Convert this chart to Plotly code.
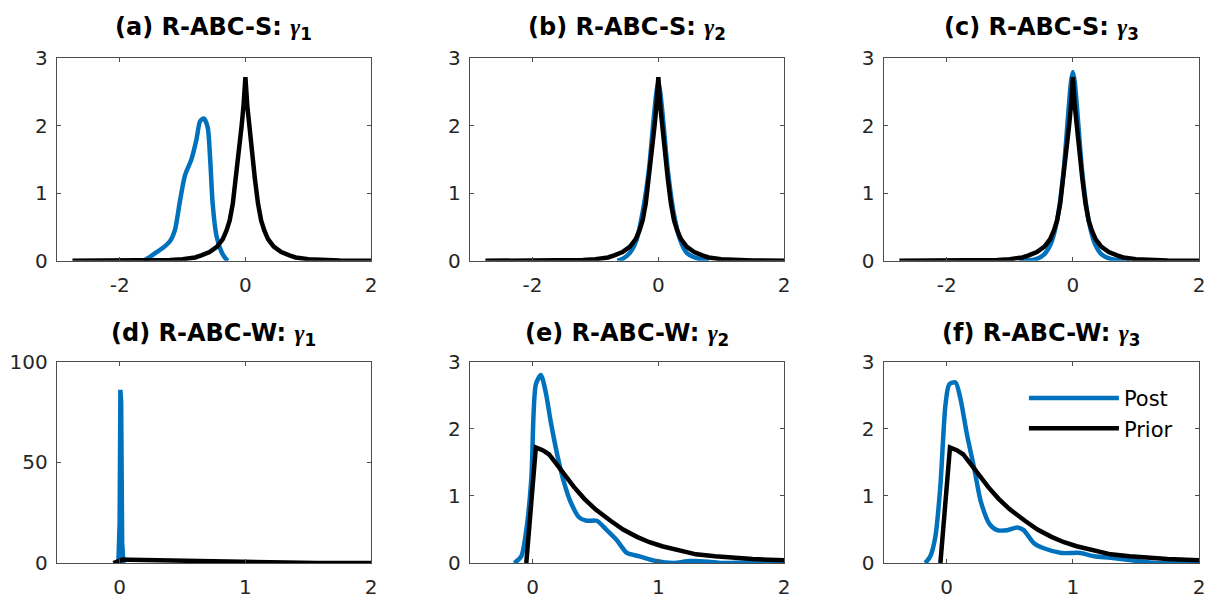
import plotly.graph_objects as go

# ---------------- data ----------------
# Prior, top row (symmetric, same for a, b, c)
prior_s_x = [-2.75, -2.0, -1.5, -1.2, -1.0, -0.8, -0.7, -0.57, -0.45, -0.36, -0.3, -0.25, -0.2, -0.15,
             -0.1, -0.06, -0.03, 0.0, 0.03, 0.06, 0.1, 0.15, 0.2, 0.25, 0.3, 0.36, 0.45, 0.57, 0.7,
             0.8, 1.0, 1.2, 1.5, 2.0]
prior_s_y = [0.0, 0.001, 0.005, 0.012, 0.025, 0.05, 0.08, 0.13, 0.21, 0.32, 0.45, 0.6, 0.85, 1.22,
             1.68, 2.0, 2.3, 2.72, 2.3, 2.0, 1.68, 1.22, 0.85, 0.6, 0.45, 0.32, 0.21, 0.13, 0.08,
             0.05, 0.025, 0.012, 0.005, 0.001]

# Posterior (a) R-ABC-S gamma_1
post_a_x = [-1.62, -1.5, -1.41, -1.3, -1.2, -1.12, -1.04, -0.96, -0.86, -0.78, -0.72, -0.66, -0.6,
            -0.56, -0.52, -0.46, -0.38, -0.32, -0.28]
post_a_y = [0.0, 0.07, 0.13, 0.2, 0.29, 0.46, 0.89, 1.27, 1.5, 1.79, 2.07, 2.11, 1.98,
            1.5, 0.84, 0.37, 0.13, 0.04, 0.0]

# Posterior (b) R-ABC-S gamma_2
post_b_x = [-0.65, -0.55, -0.45, -0.35, -0.25, -0.15, -0.08, -0.03, 0.0, 0.03, 0.08, 0.15, 0.25,
            0.35, 0.45, 0.55, 0.65, 0.8]
post_b_y = [0.0, 0.04, 0.12, 0.3, 0.72, 1.35, 2.05, 2.5, 2.64, 2.5, 2.05, 1.35, 0.68,
            0.3, 0.12, 0.06, 0.03, 0.0]

# Posterior (c) R-ABC-S gamma_3
post_c_x = [-0.85, -0.6, -0.45, -0.35, -0.25, -0.15, -0.08, -0.03, 0.0, 0.03, 0.08, 0.15, 0.25,
            0.35, 0.45, 0.6, 0.9]
post_c_y = [0.0, 0.02, 0.1, 0.25, 0.6, 1.3, 2.1, 2.65, 2.8, 2.65, 2.1, 1.3, 0.6,
            0.25, 0.1, 0.03, 0.0]

# Prior, bottom row (same for d, e, f)
prior_w_x = [-0.05, 0.026, 0.08, 0.13, 0.2, 0.25, 0.33, 0.41, 0.5, 0.62, 0.72, 0.83, 0.93, 1.03,
             1.15, 1.3, 1.45, 1.57, 1.75, 2.0]
prior_w_y = [0.0, 1.72, 1.68, 1.62, 1.45, 1.32, 1.13, 0.96, 0.8, 0.63, 0.5, 0.39, 0.31, 0.25,
             0.19, 0.13, 0.1, 0.08, 0.06, 0.04]

# Posterior (d) R-ABC-W gamma_1
post_d_x = [-0.01, 0.0, 0.006, 0.012, 0.02, 0.03]
post_d_y = [0.0, 20.0, 86.0, 80.0, 10.0, 0.0]

# Posterior (e) R-ABC-W gamma_2
post_e_x = [-0.145, -0.09, -0.05, -0.01, 0.026, 0.066, 0.105, 0.145, 0.2, 0.25, 0.3, 0.37, 0.43,
            0.51, 0.59, 0.67, 0.75, 0.85, 0.98, 1.12, 1.25, 1.4, 1.5, 1.7, 2.0]
post_e_y = [0.0, 0.1, 0.49, 1.25, 2.66, 2.8, 2.54, 2.1, 1.58, 1.2, 0.92, 0.68, 0.63,
            0.63, 0.49, 0.34, 0.15, 0.1, 0.03, 0.0, 0.03, 0.02, 0.0, 0.01, 0.0]

# Posterior (f) R-ABC-W gamma_3
post_f_x = [-0.17, -0.13, -0.09, -0.05, -0.01, 0.02, 0.07, 0.11, 0.16, 0.22, 0.27, 0.34, 0.4,
            0.48, 0.56, 0.61, 0.69, 0.77, 0.91, 1.06, 1.17, 1.3, 1.51, 1.65, 2.0]
post_f_y = [0.0, 0.1, 0.39, 1.15, 2.35, 2.66, 2.69, 2.44, 1.92, 1.39, 0.92, 0.58, 0.49,
            0.49, 0.53, 0.49, 0.3, 0.22, 0.15, 0.15, 0.1, 0.08, 0.03, 0.0, 0.0]

titles = ["(a) R-ABC-S: ", "(b) R-ABC-S: ", "(c) R-ABC-S: ",
          "(d) R-ABC-W: ", "(e) R-ABC-W: ", "(f) R-ABC-W: "]
subs = ["1", "2", "3", "1", "2", "3"]

x_ticks_top = [-2, 0, 2]
x_ticklabels_top = ["-2", "0", "2"]
x_ticks_bot = [0, 1, 2]
y_ticks_small = [0, 1, 2, 3]
y_ticks_big = [0, 50, 100]

series_names = ["Post", "Prior"]

# ---------------- style ----------------
OFF = 8                      # default body margin of the html page
W, H = 1218 - 2 * OFF, 608 - 2 * OFF
BLUE = "#0072BD"
BLACK = "#000000"
AX = "#4d4d4d"
TXT = "#262626"
FONT = "DejaVu Sans, Verdana, sans-serif"
LW = 4.5

# plot-area edges in screen pixels (reference)
col_px = [(57, 373), (472, 788), (888, 1205)]
row_px = [(48, 259), (364, 574)]
title_bottom_px = [35, 354]


def fx(px):
    return (px - OFF) / W


def fy(py):
    return 1 - (py - OFF) / H


fig = go.Figure()

panels = [
    (post_a_x, post_a_y, prior_s_x, prior_s_y),
    (post_b_x, post_b_y, prior_s_x, prior_s_y),
    (post_c_x, post_c_y, prior_s_x, prior_s_y),
    (post_d_x, post_d_y, prior_w_x, prior_w_y),
    (post_e_x, post_e_y, prior_w_x, prior_w_y),
    (post_f_x, post_f_y, prior_w_x, prior_w_y),
]

annotations = []
for i, (px_, py_, qx_, qy_) in enumerate(panels):
    r, c = divmod(i, 3)
    n = "" if i == 0 else str(i + 1)
    xa, ya = "x" + n, "y" + n
    show = (i == 5)
    post_line = dict(color=BLUE, width=LW)
    if i != 3:
        post_line.update(shape="spline", smoothing=0.7)
    fig.add_trace(go.Scatter(x=px_, y=py_, mode="lines", name=series_names[0],
                             line=post_line, xaxis=xa, yaxis=ya,
                             showlegend=show, cliponaxis=False))
    fig.add_trace(go.Scatter(x=qx_, y=qy_, mode="lines", name=series_names[1],
                             line=dict(color=BLACK, width=LW), xaxis=xa, yaxis=ya,
                             showlegend=show, cliponaxis=False))

    x0, x1 = col_px[c]
    y0, y1 = row_px[r]
    xdom = [fx(x0), fx(x1)]
    ydom = [fy(y1), fy(y0)]
    if r == 0:
        xr, xt, xtt = [-3, 2], x_ticks_top, x_ticklabels_top
    else:
        xr, xt, xtt = [-0.5, 2], x_ticks_bot, [str(v) for v in x_ticks_bot]
    if i == 3:
        yr, yt = [0, 100], y_ticks_big
    else:
        yr, yt = [0, 3], y_ticks_small
    common = dict(showline=True, linecolor=AX, linewidth=1, mirror="ticks", ticks="inside",
                  ticklen=4, tickcolor=AX, tickwidth=1, showgrid=False, zeroline=False,
                  tickfont=dict(family=FONT, size=20, color=TXT), fixedrange=True)
    fig.layout["xaxis" + n] = dict(domain=xdom, range=xr, tickvals=xt, ticktext=xtt,
                                   anchor=ya, ticklabelstandoff=6, **common)
    fig.layout["yaxis" + n] = dict(domain=ydom, range=yr, tickvals=yt,
                                   ticktext=[str(v) for v in yt],
                                   anchor=xa, ticklabelstandoff=4, **common)

    title = ("<b>" + titles[i] + "<span style='font-family:Liberation Serif'><i>γ</i></span>"
             "<sub>" + subs[i] + "</sub></b>")
    annotations.append(dict(text=title, x=fx((x0 + x1) / 2), xref="paper",
                            y=fy(title_bottom_px[r]), yref="paper", xanchor="center",
                            yanchor="bottom", showarrow=False,
                            font=dict(family=FONT, size=24, color=BLACK)))

fig.update_layout(
    width=W, height=H,
    margin=dict(l=0, r=0, t=0, b=0),
    paper_bgcolor="white", plot_bgcolor="white",
    annotations=annotations,
    showlegend=True,
    legend=dict(x=fx(1029), y=fy(381), xanchor="left", yanchor="top",
                bgcolor="rgba(0,0,0,0)", borderwidth=0, itemwidth=90,
                font=dict(family=FONT, size=21, color=BLACK), tracegroupgap=0),
)

fig.write_html("out.html")
